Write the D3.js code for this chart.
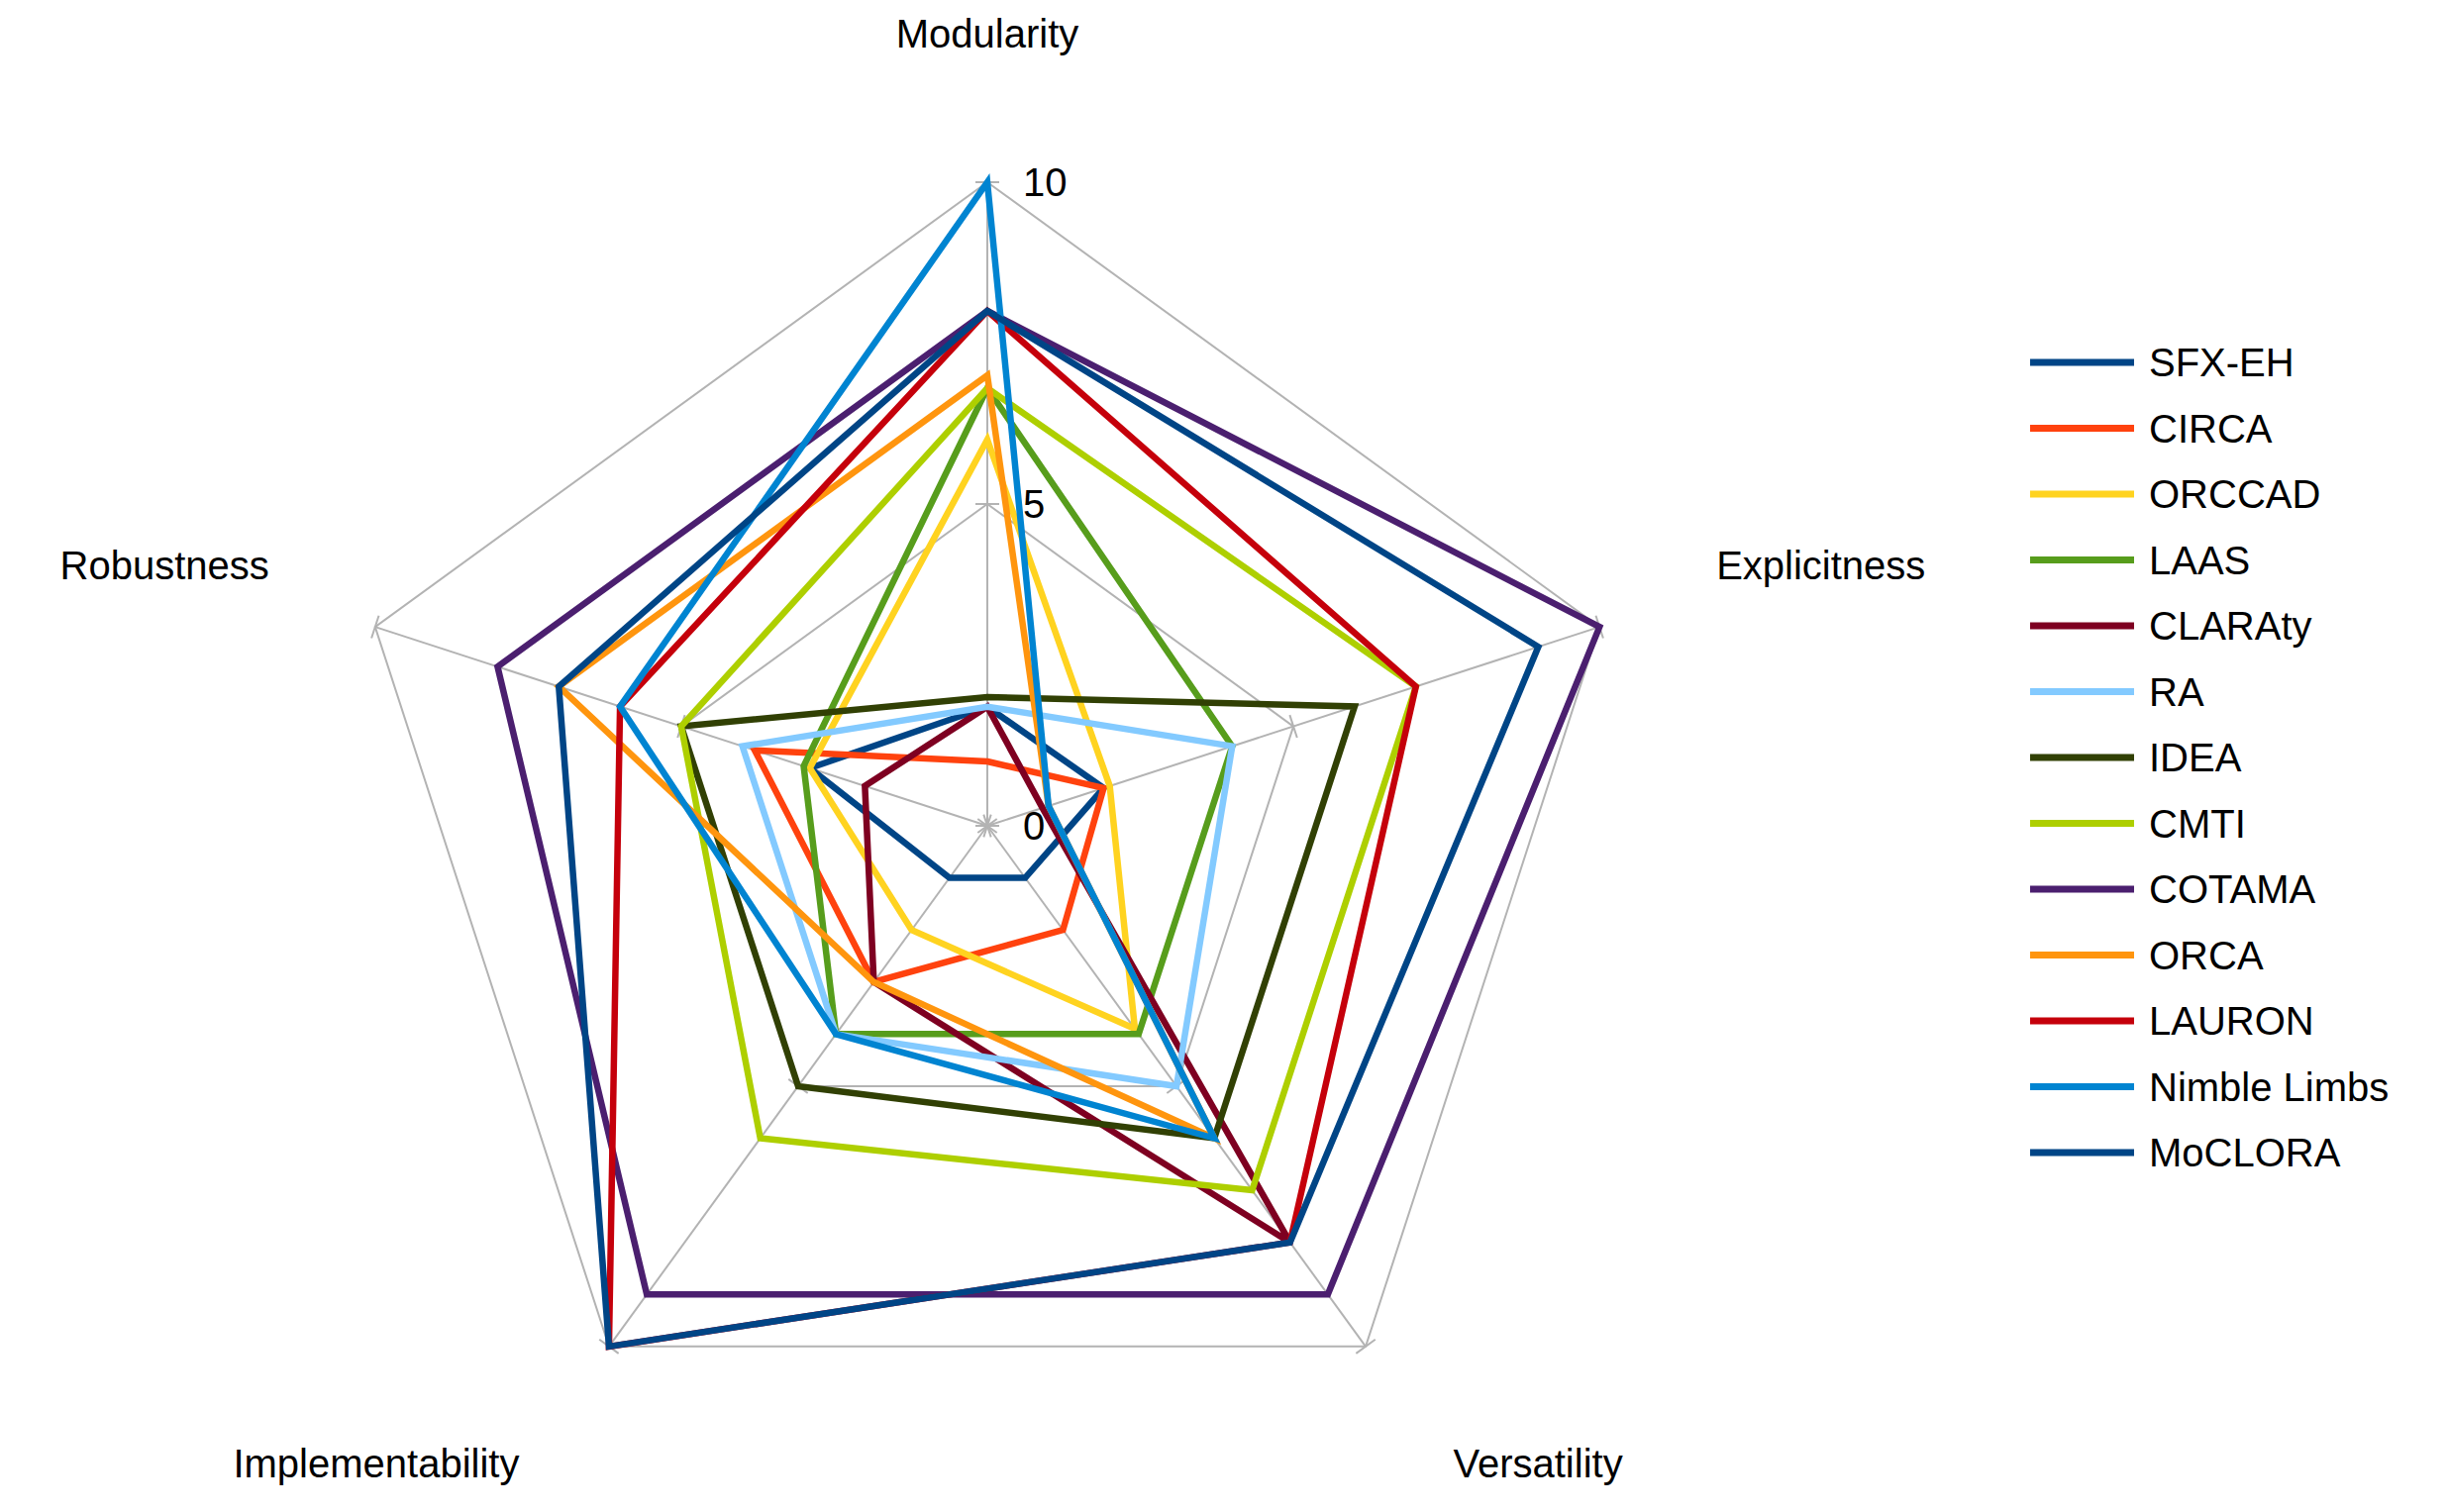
<!DOCTYPE html>
<html><head><meta charset="utf-8">
<script src="https://cdn.jsdelivr.net/npm/d3@7"></script>
<style>body{margin:0;background:#fff}svg{display:block}text{font-family:"Liberation Sans",Arial,sans-serif;fill:#000}</style>
</head><body><svg id="c" width="2472" height="1527"></svg>
<script>
const axes = ["Modularity","Explicitness","Versatility","Implementability","Robustness"];
const seriesNames = ["SFX-EH","CIRCA","ORCCAD","LAAS","CLARAty","RA","IDEA","CMTI","COTAMA","ORCA","LAURON","Nimble Limbs","MoCLORA"];
const sfxeh   = [1.85,1.9,1,1,2.9];
const circa   = [1,1.9,2,3,3.8];
const orccad  = [6,2,3.9,2,2.9];
const laas    = [6.8,4,4,4,3];
const claraty = [1.85,0.9,8,3,2];
const ra      = [1.85,4,5,4,4];
const idea    = [2,6,6,5,5];
const cmti    = [6.8,7,7,6,5];
const cotama  = [8,10,9,9,8];
const orca    = [7,1,6,3,7];
const lauron  = [8,7,8,10,6];
const nimble  = [10,1,6,4,6];
const moclora = [8,9,8,10,7];
const seriesValues = [sfxeh,circa,orccad,laas,claraty,ra,idea,cmti,cotama,orca,lauron,nimble,moclora];
const colors = ["#004586","#ff420e","#ffd320","#579d1c","#7e0021","#83caff","#314004","#aecf00","#4b1f6f","#ff950e","#c5000b","#0084d1","#004586"];
const tickValues = [0,5,10];

const svg = d3.select("#c");
const cx = 997, cy = 834, R = 650;
const r = d3.scaleLinear().domain([0,10]).range([0,R]);
const ang = d3.scalePoint().domain(axes).range([0, 2*Math.PI*4/5]);
const pt = (a, v) => [cx + r(v)*Math.sin(ang(a)), cy - r(v)*Math.cos(ang(a))];

const grid = svg.append("g").attr("stroke","#b3b3b3").attr("stroke-width",2).attr("fill","none");
[5,10].forEach(v => grid.append("path").attr("d", d3.line()(axes.map(a=>pt(a,v))) + "Z"));
axes.forEach(a => {
  const [x,y] = pt(a,10);
  grid.append("line").attr("x1",cx).attr("y1",cy).attr("x2",x).attr("y2",y);
  tickValues.forEach(v => {
    const [px,py] = pt(a,v);
    const t = ang(a), L = 12;
    grid.append("line").attr("x1",px-L*Math.cos(t)).attr("y1",py-L*Math.sin(t))
      .attr("x2",px+L*Math.cos(t)).attr("y2",py+L*Math.sin(t));
  });
});
tickValues.forEach(v => {
  svg.append("text").attr("x", cx+36).attr("y", cy - r(v) + 14).attr("font-size",40).text(v);
});

const line = d3.line().curve(d3.curveLinearClosed);
seriesValues.forEach((vals,i) => {
  svg.append("path").attr("d", line(axes.map((a,j)=>pt(a,vals[j]))))
    .attr("fill","none").attr("stroke",colors[i]).attr("stroke-width",6.5).attr("stroke-linejoin","miter");
});

const labelOff = {"Modularity":[0,-136,"middle"],"Explicitness":[118,-48,"start"],"Versatility":[174,132,"middle"],"Implementability":[-235,132,"middle"],"Robustness":[-107,-48,"end"]};
axes.forEach(a => {
  const [x,y] = pt(a,10); const o = labelOff[a];
  svg.append("text").attr("x",x+o[0]).attr("y",y+o[1]).attr("text-anchor",o[2]).attr("font-size",40).text(a);
});

const lg = svg.append("g");
seriesNames.forEach((n,i) => {
  const y = 366 + i*66.5;
  lg.append("line").attr("x1",2050).attr("x2",2155).attr("y1",y).attr("y2",y).attr("stroke",colors[i]).attr("stroke-width",7);
  lg.append("text").attr("x",2170).attr("y",y+14).attr("font-size",40).text(n);
});
</script></body></html>
